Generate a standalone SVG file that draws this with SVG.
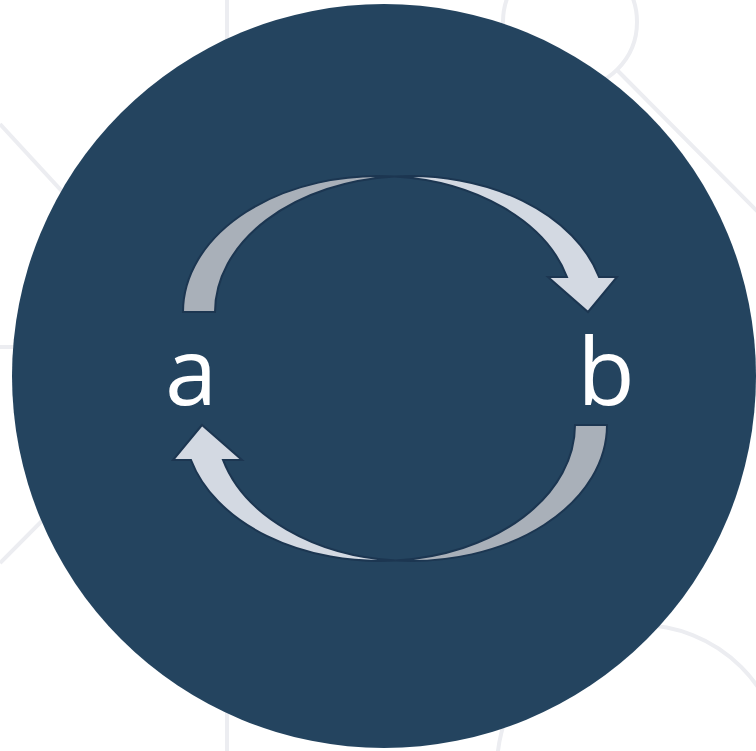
<svg xmlns="http://www.w3.org/2000/svg" width="756" height="751" viewBox="0 0 756 751">
  <style>
    .bgline { fill: none; stroke: #ECEDF1; stroke-width: 4; }
    .arrow { stroke: #1C3651; stroke-width: 2; stroke-linejoin: miter; }
    .dark { fill: #A9B0B9; }
    .light { fill: #D3D9E2; }
    .label { font-family: "Open Sans", "Noto Sans", sans-serif; font-size: 94px; fill: #FFFFFF; text-anchor: middle; }
  </style>
  <defs>
    <g id="curvedArrow">
      <path class="arrow dark" d="M183,312 A195.3,136 0 0 1 394.3,176.5 A195.3,136 0 0 0 215,312 Z"/>
      <path class="arrow light" d="M394.3,176.5 A195.3,136 0 0 1 599,277 L617,277 L588,312 L548,277 L567,277 A195.3,136 0 0 0 394.3,176.5 Z"/>
    </g>
  </defs>
  <rect width="756" height="751" fill="#FFFFFF"/>
  <g id="background">
    <line class="bgline" x1="227" y1="0" x2="227" y2="751"/>
    <circle class="bgline" cx="570" cy="22" r="67"/>
    <line class="bgline" x1="616" y1="69" x2="758" y2="212"/>
    <line class="bgline" x1="0" y1="124" x2="210" y2="352"/>
    <line class="bgline" x1="0" y1="563" x2="210" y2="352"/>
    <line class="bgline" x1="0" y1="347" x2="210" y2="347"/>
    <circle class="bgline" cx="640" cy="768" r="143"/>
    <circle cx="384" cy="376" r="372" fill="#24445F"/>
  </g>
  <g id="connectors">
    <use id="arrow-a-to-b" href="#curvedArrow"/>
    <use id="arrow-b-to-a" href="#curvedArrow" transform="rotate(180 395 368.5)"/>
  </g>
  <g id="node-a">
    <text class="label" x="191" y="405">a</text>
  </g>
  <g id="node-b">
    <text class="label" x="606" y="405">b</text>
  </g>
</svg>
